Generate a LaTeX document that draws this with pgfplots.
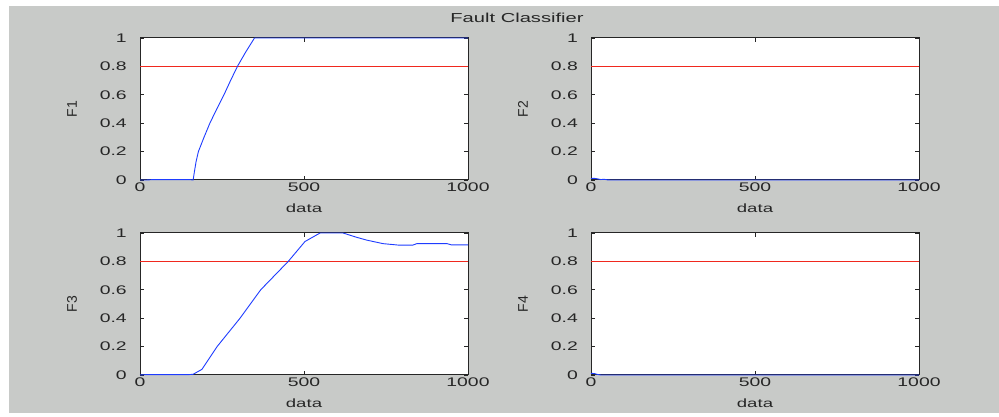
\documentclass[border=0pt]{standalone}
\usepackage{pgfplots}
\pgfplotsset{compat=1.18}
\usepackage{fontspec}
\setmainfont{Liberation Sans}
\definecolor{bgc}{RGB}{200,202,200}
\definecolor{lblue}{RGB}{30,60,255}
\definecolor{lred}{RGB}{240,40,30}
\pgfplotsset{
  mstyle/.style={
    scale only axis, width=328pt, height=142pt, anchor=south west,
    xmin=0, xmax=1000, ymin=0, ymax=1,
    xtick={0,500,1000}, ytick={0,0.2,0.4,0.6,0.8,1},
    tick align=inside, major tick length=4pt,
    axis background/.style={fill=white},
    axis line style={black!85, line width=1pt},
    every tick/.style={black!85, line width=0.8pt},
    /pgf/number format/assume math mode=true,
    /pgf/number format/1000 sep={},
    scaled ticks=false,
    tick label style={font=\fontsize{12.5}{14}\selectfont, text=black!85, xscale=1.55},
    yticklabel style={xshift=-5pt},
    xticklabel style={yshift=1pt},
    label style={font=\fontsize{12}{14}\selectfont, text=black!85},
    xlabel={data},
    xlabel style={at={(axis description cs:0.5,-0.2)}, anchor=center, xscale=1.55},
    ylabel style={at={(axis description cs:-0.207,0.5)}, anchor=center, font=\fontsize{14}{16}\selectfont},
    clip=false,
  }
}
\begin{document}
\begin{tikzpicture}[x=1pt,y=1pt]
\useasboundingbox (0,0) rectangle (999,417);
\fill[white] (0,0) rectangle (999,417);
\fill[bgc] (9,4) rectangle (999,411);
\node[font=\fontsize{13}{15}\selectfont, text=black!85, xscale=1.55] at (517,399) {Fault Classifier};

% F1
\begin{axis}[mstyle, at={(140pt,237pt)}, ylabel={F1}]
\addplot[lred, line width=0.8pt] coordinates {(0,0.8) (1000,0.8)};
\addplot[lblue, line width=0.9pt] coordinates {
(0,0) (20,0) (40,0.003) (150,0.003) (162,0) (166,0.06) (171,0.13) (178,0.2) (195,0.3)
(213,0.4) (234,0.5) (256,0.6) (276,0.7) (297,0.8) (322,0.9) (349,1.0) (1000,1.0)};
\end{axis}

% F2
\begin{axis}[mstyle, at={(591pt,237pt)}, ylabel={F2}]
\addplot[lred, line width=0.8pt] coordinates {(0,0.8) (1000,0.8)};
\addplot[lblue, line width=0.9pt] coordinates {
(0,0.01) (10,0.012) (20,0.008) (30,0.003) (40,0.005) (50,0.001) (60,0) (1000,0)};
\end{axis}

% F3
\begin{axis}[mstyle, at={(140pt,42pt)}, ylabel={F3}]
\addplot[lred, line width=0.8pt] coordinates {(0,0.8) (1000,0.8)};
\addplot[lblue, line width=0.9pt] coordinates {
(0,0) (20,0.003) (150,0.003) (162,0.005) (189,0.04) (235,0.2) (305,0.4) (368,0.6) (452,0.8)
(503,0.94) (549,1.0) (619,1.0) (660,0.97) (691,0.95) (741,0.925) (787,0.915) (832,0.915)
(844,0.925) (936,0.925) (950,0.916) (1000,0.916)};
\end{axis}

% F4
\begin{axis}[mstyle, at={(591pt,42pt)}, ylabel={F4}]
\addplot[lred, line width=0.8pt] coordinates {(0,0.8) (1000,0.8)};
\addplot[lblue, line width=0.9pt] coordinates {
(0,0.012) (10,0.01) (20,0.004) (30,0) (1000,0)};
\end{axis}
\end{tikzpicture}
\end{document}
